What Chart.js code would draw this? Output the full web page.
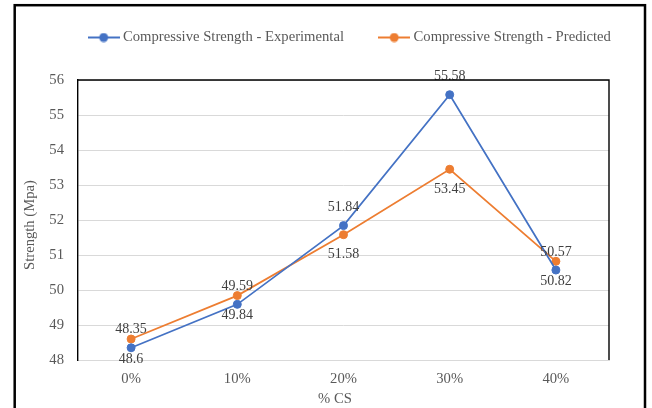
<!DOCTYPE html>
<html>
<head>
<meta charset="utf-8">
<script src="https://cdn.jsdelivr.net/npm/chart.js@4/dist/chart.umd.min.js"></script>
<style>
  html, body { margin: 0; padding: 0; background: #ffffff; }
  #wrap { width: 652px; height: 408px; position: relative; }
</style>
</head>
<body>
<div id="wrap"><canvas id="chart" width="652" height="408"></canvas></div>
<script>
// ---- data ----
const categories = ['0%', '10%', '20%', '30%', '40%'];
const experimental = [48.35, 49.59, 51.84, 55.58, 50.57];
const predicted = [48.6, 49.84, 51.58, 53.45, 50.82];
const seriesNames = ['Compressive Strength - Experimental', 'Compressive Strength - Predicted'];
const yTitle = 'Strength (Mpa)';
const xTitle = '% CS';
const yMin = 48, yMax = 56, yStep = 1;

// ---- styling ----
const BLUE = '#4472C4';
const ORANGE = '#ED7D31';
const TEXT = '#595959';
const LABEL_TEXT = '#404040';
const GRID = '#d9d9d9';
const FONT = '"Liberation Serif", "Times New Roman", serif';
const FONT_SIZE = 14.67;
const LEGEND_GAP = 38.2;

Chart.defaults.font.family = FONT;
Chart.defaults.font.size = FONT_SIZE;
Chart.defaults.color = TEXT;

// legend swatch: short line with a dot in the middle
function makeSwatch(color) {
  const c = document.createElement('canvas');
  c.width = 32; c.height = 10;
  const g = c.getContext('2d');
  g.strokeStyle = color; g.lineWidth = 2;
  g.beginPath(); g.moveTo(0, 5); g.lineTo(32, 5); g.stroke();
  g.fillStyle = color;
  g.beginPath(); g.arc(16, 5, 4.5, 0, Math.PI * 2); g.fill();
  return c;
}
const swatches = [makeSwatch(BLUE), makeSwatch(ORANGE)];

// value labels: first series above its points, second below
const labelOffsets = [-18, 20];

const chartDecor = {
  id: 'chartDecor',
  afterLayout(chart) {
    const lg = chart.legend;
    if (!lg) return;
    const h = lg.height;
    lg.top = 37.5 - LEGEND_GAP - FONT_SIZE / 2;
    lg.bottom = lg.top + h;
    lg.left = 351.3 - 400;
    lg.right = 351.3 + 400;
  },
  afterDatasetsDraw(chart) {
    const ctx = chart.ctx;
    ctx.save();
    ctx.font = '14px ' + FONT;
    ctx.fillStyle = LABEL_TEXT;
    ctx.textAlign = 'center';
    ctx.textBaseline = 'middle';
    chart.data.datasets.forEach((ds, i) => {
      const meta = chart.getDatasetMeta(i);
      meta.data.forEach((pt, j) => {
        ctx.fillText(String(ds.data[j]), pt.x, pt.y + labelOffsets[i]);
      });
    });
    ctx.restore();
  },
  afterDraw(chart) {
    const ctx = chart.ctx;
    const a = chart.chartArea;
    ctx.save();
    // plot area frame (top and right edges)
    ctx.strokeStyle = '#000000';
    ctx.lineWidth = 1.4;
    ctx.beginPath();
    ctx.moveTo(a.left, a.top);
    ctx.lineTo(a.right, a.top);
    ctx.lineTo(a.right, a.bottom);
    ctx.stroke();
    // outer frame
    ctx.lineWidth = 2.5;
    ctx.strokeRect(14.7, 5.2, 630.3, 440);
    // axis titles
    ctx.fillStyle = TEXT;
    ctx.font = FONT_SIZE + 'px ' + FONT;
    ctx.textAlign = 'center';
    ctx.textBaseline = 'middle';
    ctx.fillText(xTitle, 335, 399.5);
    ctx.translate(30, 225);
    ctx.rotate(-Math.PI / 2);
    ctx.fillText(yTitle, 0, 0);
    ctx.restore();
  }
};

new Chart(document.getElementById('chart'), {
  type: 'line',
  data: {
    labels: categories,
    datasets: [
      {
        label: seriesNames[0],
        data: experimental,
        borderColor: BLUE,
        backgroundColor: BLUE,
        borderWidth: 1.75,
        pointRadius: 4,
        pointBorderWidth: 1,
        pointBackgroundColor: BLUE,
        pointBorderColor: BLUE,
        tension: 0
      },
      {
        label: seriesNames[1],
        data: predicted,
        borderColor: ORANGE,
        backgroundColor: ORANGE,
        borderWidth: 1.75,
        pointRadius: 4,
        pointBorderWidth: 1,
        pointBackgroundColor: ORANGE,
        pointBorderColor: ORANGE,
        tension: 0
      }
    ]
  },
  options: {
    responsive: false,
    animation: false,
    devicePixelRatio: 1,
    layout: { padding: { left: 6, right: 43, top: 17.13, bottom: 0 } },
    plugins: {
      legend: {
        position: 'top',
        labels: {
          usePointStyle: true,
          pointStyleWidth: 24,
          padding: LEGEND_GAP,
          color: TEXT,
          font: { size: FONT_SIZE, family: FONT },
          generateLabels(chart) {
            const items = Chart.defaults.plugins.legend.labels.generateLabels(chart);
            items.forEach((it, i) => { it.pointStyle = swatches[i]; });
            return items;
          }
        }
      },
      tooltip: { enabled: false }
    },
    scales: {
      x: {
        offset: true,
        grid: { display: false, drawTicks: false },
        border: { display: true, color: GRID, width: 1 },
        ticks: { padding: 10, color: TEXT, font: { size: FONT_SIZE } },
        afterFit(scale) { scale.height = 48; }
      },
      y: {
        min: yMin,
        max: yMax,
        ticks: { stepSize: yStep, padding: 14, color: TEXT, font: { size: FONT_SIZE } },
        grid: { color: GRID, lineWidth: 1, drawTicks: false },
        border: { display: true, color: '#000000', width: 1.4 },
        afterFit(scale) { scale.width = 72; }
      }
    }
  },
  plugins: [chartDecor]
});
</script>
</body>
</html>
